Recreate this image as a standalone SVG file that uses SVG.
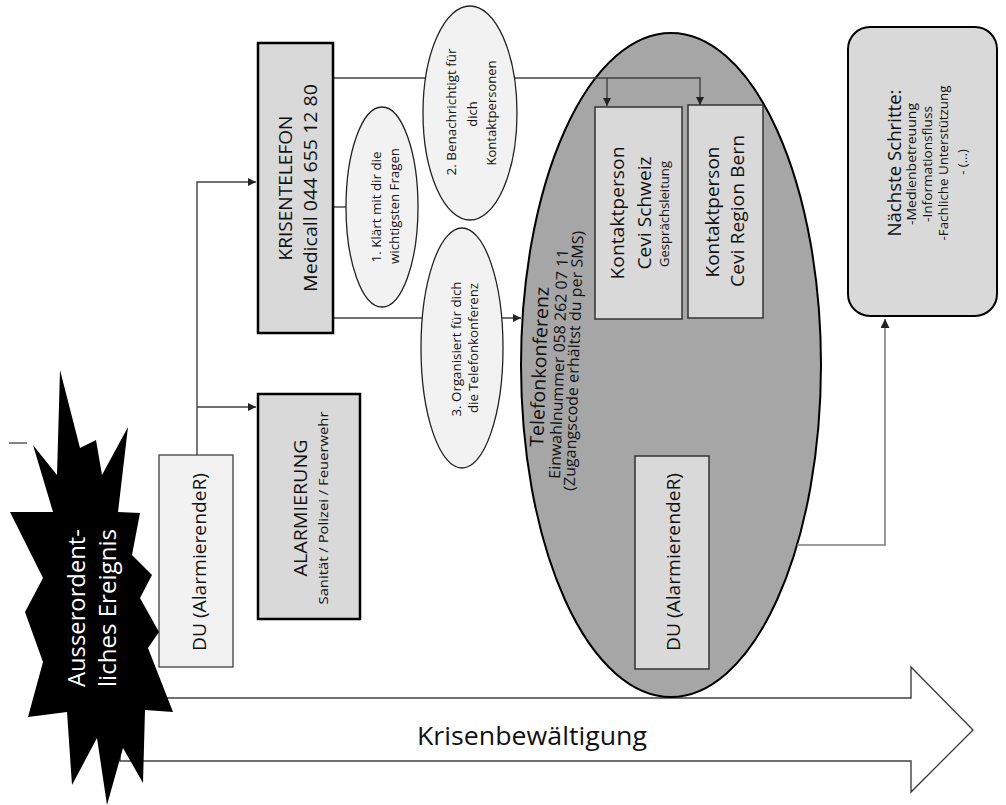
<svg xmlns="http://www.w3.org/2000/svg" width="1006" height="805" viewBox="0 0 1006 805">
<style>
text{font-family:"Open Sans","Noto Sans","DejaVu Sans",sans-serif;fill:#111;text-anchor:middle}
.box{fill:#d9d9d9;stroke:#000;stroke-width:2.5}
.kbox{fill:#d9d9d9;stroke:#333;stroke-width:1.5}
.dubox{fill:#f2f2f2;stroke:#404040;stroke-width:1.3}
.sell{fill:#f2f2f2;stroke:#222;stroke-width:1.3}
.con{fill:none;stroke:#404040;stroke-width:1.4}
.cong{fill:none;stroke:#7f7f7f;stroke-width:1.6}
</style>
<defs>
<marker id="ah" viewBox="0 0 10 10" refX="10" refY="5" markerWidth="8" markerHeight="8" markerUnits="userSpaceOnUse" orient="auto"><path d="M0,0 L10,5 L0,10 z" fill="#222"/></marker>
<marker id="ahg" viewBox="0 0 10 10" refX="10" refY="5" markerWidth="9" markerHeight="9" markerUnits="userSpaceOnUse" orient="auto"><path d="M0,0 L10,5 L0,10 z" fill="#222"/></marker>
</defs>
<rect width="1006" height="805" fill="#fff"/>

<g id="krisenbewaeltigung">
<polygon points="120,698 911,698 911,667 973,730 911,792 911,761 120,761" fill="#fff" stroke="#404040" stroke-width="1.4"/>
<text x="532" y="745" font-size="25" textLength="230" lengthAdjust="spacingAndGlyphs">Krisenbewältigung</text>
</g>

<g id="telefonkonferenz">
<ellipse cx="671" cy="365" rx="150" ry="332" fill="#a6a6a6" stroke="#000" stroke-width="2"/>
<text transform="translate(546,367) rotate(-88)" font-size="19" textLength="160" lengthAdjust="spacingAndGlyphs">Telefonkonferenz</text>
<text transform="translate(564,364) rotate(-88)" font-size="15.5" textLength="230" lengthAdjust="spacingAndGlyphs">Einwahlnummer 058 262 07 11</text>
<text transform="translate(579,361) rotate(-88)" font-size="15.5" textLength="260" lengthAdjust="spacingAndGlyphs">(Zugangscode erhältst du per SMS)</text>
</g>

<g id="connectors">
<path class="con" d="M197,455 V182 H256" marker-end="url(#ah)"/>
<path class="con" d="M197,407 H256" marker-end="url(#ah)"/>
<path class="con" d="M333,207 H348"/>
<path class="con" d="M333,78 H700 V105" marker-end="url(#ah)"/>
<path class="con" d="M607,78 V106" marker-end="url(#ah)"/>
<path class="con" d="M333,318 H521" marker-end="url(#ah)"/>
<path class="cong" d="M797,545 H885 V319" marker-end="url(#ahg)"/>
</g>

<g id="krisentelefon">
<rect class="box" x="258" y="43" width="75" height="290"/>
<text transform="translate(292,188) rotate(-90)" font-size="19" textLength="145" lengthAdjust="spacingAndGlyphs">KRISENTELEFON</text>
<text transform="translate(317,188) rotate(-90)" font-size="18.5" textLength="208" lengthAdjust="spacingAndGlyphs">Medicall 044 655 12 80</text>
</g>

<g id="schritt1">
<ellipse class="sell" cx="382" cy="207" rx="36" ry="100"/>
<text transform="translate(381,207) rotate(-90)" font-size="12.5" textLength="111" lengthAdjust="spacingAndGlyphs">1. Klärt mit dir die</text>
<text transform="translate(399,206) rotate(-90)" font-size="12.5" textLength="116" lengthAdjust="spacingAndGlyphs">wichtigsten Fragen</text>
</g>

<g id="schritt2">
<ellipse class="sell" cx="470" cy="113" rx="47" ry="107"/>
<text transform="translate(456,112) rotate(-90)" font-size="13" textLength="127" lengthAdjust="spacingAndGlyphs">2. Benachrichtigt für</text>
<text transform="translate(477,114) rotate(-90)" font-size="13">dich</text>
<text transform="translate(496,113) rotate(-90)" font-size="13" textLength="105" lengthAdjust="spacingAndGlyphs">Kontaktpersonen</text>
</g>

<g id="schritt3">
<ellipse class="sell" cx="462" cy="348" rx="41" ry="120"/>
<text transform="translate(461,349) rotate(-90)" font-size="13" textLength="135" lengthAdjust="spacingAndGlyphs">3. Organisiert für dich</text>
<text transform="translate(478,348) rotate(-90)" font-size="13" textLength="130" lengthAdjust="spacingAndGlyphs">die Telefonkonferenz</text>
</g>

<g id="kontakt-schweiz">
<rect class="kbox" x="595" y="107" width="87" height="212"/>
<text transform="translate(624,213) rotate(-90)" font-size="18.5" textLength="133" lengthAdjust="spacingAndGlyphs">Kontaktperson</text>
<text transform="translate(651,213) rotate(-90)" font-size="18.5" textLength="113" lengthAdjust="spacingAndGlyphs">Cevi Schweiz</text>
<text transform="translate(669,214) rotate(-90)" font-size="12.5" textLength="106" lengthAdjust="spacingAndGlyphs">Gesprächsleitung</text>
</g>

<g id="kontakt-bern">
<rect class="kbox" x="688" y="105" width="75" height="213"/>
<text transform="translate(719,212) rotate(-90)" font-size="18.5" textLength="131" lengthAdjust="spacingAndGlyphs">Kontaktperson</text>
<text transform="translate(744,211) rotate(-90)" font-size="18.5" textLength="152" lengthAdjust="spacingAndGlyphs">Cevi Region Bern</text>
</g>

<g id="du-innen">
<rect class="kbox" x="635" y="456" width="74" height="213"/>
<text transform="translate(680,562) rotate(-90)" font-size="18.5" textLength="178" lengthAdjust="spacingAndGlyphs">DU (AlarmierendeR)</text>
</g>

<g id="alarmierung">
<rect class="box" x="258" y="394" width="102" height="225"/>
<text transform="translate(307,508) rotate(-90)" font-size="19" textLength="137" lengthAdjust="spacingAndGlyphs">ALARMIERUNG</text>
<text transform="translate(328,508) rotate(-90)" font-size="12.5" textLength="193" lengthAdjust="spacingAndGlyphs">Sanität / Polizei / Feuerwehr</text>
</g>

<g id="du">
<rect class="dubox" x="159" y="455" width="74" height="212"/>
<text transform="translate(206,562) rotate(-90)" font-size="18.5" textLength="178" lengthAdjust="spacingAndGlyphs">DU (AlarmierendeR)</text>
</g>

<g id="ereignis">
<line x1="9" y1="443" x2="27" y2="443" stroke="#333" stroke-width="1.2"/>
<polygon fill="#000" points="60,370 80,448 96,440 102,475 128,427 118,512 140,513 132,555 152,575 140,598 159,632 148,648 173,712 145,710 143,783 123,748 107,805 97,738 72,785 67,712 28,717 43,662 25,612 43,578 10,512 53,512 33,445 57,475"/>
<text transform="translate(85,608) rotate(-90)" font-size="23" textLength="158" lengthAdjust="spacingAndGlyphs" style="fill:#fff">Ausserordent-</text>
<text transform="translate(116,608) rotate(-90)" font-size="23" textLength="158" lengthAdjust="spacingAndGlyphs" style="fill:#fff">liches Ereignis</text>
</g>

<g id="naechste-schritte">
<rect x="848" y="27" width="149" height="289" rx="22" ry="22" fill="#d9d9d9" stroke="#000" stroke-width="2"/>
<text transform="translate(901,163) rotate(-90)" font-size="18" textLength="147" lengthAdjust="spacingAndGlyphs">Nächste Schritte:</text>
<text transform="translate(916,164) rotate(-90)" font-size="13" textLength="122" lengthAdjust="spacingAndGlyphs">-Medienbetreuung</text>
<text transform="translate(932,164) rotate(-90)" font-size="13" textLength="116" lengthAdjust="spacingAndGlyphs">-Informationsfluss</text>
<text transform="translate(948,163) rotate(-90)" font-size="13" textLength="155" lengthAdjust="spacingAndGlyphs">-Fachliche Unterstützung</text>
<text transform="translate(967,162) rotate(-90)" font-size="13">- (...)</text>
</g>
</svg>
